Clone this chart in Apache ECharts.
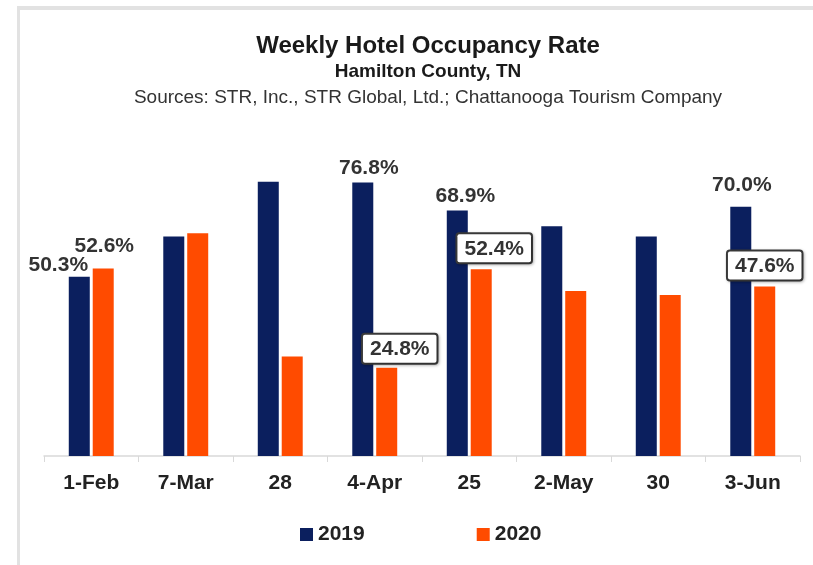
<!DOCTYPE html>
<html>
<head>
<meta charset="utf-8">
<script src="https://cdn.jsdelivr.net/npm/echarts@6/dist/echarts.min.js"></script>
<style>
  html, body { margin: 0; padding: 0; background: #fff; }
  #chart { width: 813px; height: 565px; }
</style>
</head>
<body>
<div id="chart"></div>
<script>
// weeks shown on the x axis
const weeks = ["1-Feb", "7-Mar", "28", "4-Apr", "25", "2-May", "30", "3-Jun"];
// occupancy rate, percent
const occ2019 = [50.3, 61.6, 77.0, 76.8, 68.9, 64.5, 61.6, 70.0];
const occ2020 = [52.6, 62.5, 27.9, 24.8, 52.4, 46.3, 45.2, 47.6];

const NAVY = "#0b1f5e";
const ORANGE = "#ff4b00";
const FONT = "'Liberation Sans', Arial, sans-serif";

// which bars get a label (index -> label offset), plain or boxed
const plain2019 = { 0: [-21, 4], 3: [6, 1], 4: [8, 1], 7: [1, -6] };
const plain2020 = { 0: [1, -7] };
const boxed2020 = { 3: [13, 0], 4: [13, -2], 7: [0, -2] };

const plainLabel = (off) => ({
  show: true,
  position: "top",
  offset: off,
  formatter: (p) => p.value.toFixed(1) + "%",
  color: "#333",
  fontFamily: FONT,
  fontWeight: "bold",
  fontSize: 21,
});

const boxLabel = (off) => ({
  show: true,
  position: "top",
  offset: off,
  formatter: (p) => p.value.toFixed(1) + "%",
  color: "#333",
  fontFamily: FONT,
  fontWeight: "bold",
  fontSize: 21,
  backgroundColor: "#fff",
  borderColor: "#3a3a3a",
  borderWidth: 2,
  borderRadius: 2,
  padding: [4, 7, 3, 7],
  shadowColor: "rgba(0,0,0,0.25)",
  shadowBlur: 3,
  shadowOffsetX: 1,
  shadowOffsetY: 1,
});

const data2019 = occ2019.map((v, i) =>
  plain2019[i] ? { value: v, label: plainLabel(plain2019[i]) } : v
);
const data2020 = occ2020.map((v, i) => {
  if (plain2020[i]) return { value: v, label: plainLabel(plain2020[i]) };
  if (boxed2020[i]) return { value: v, label: boxLabel(boxed2020[i]) };
  return v;
});

const chart = echarts.init(document.getElementById("chart"));

chart.setOption({
  animation: false,
  backgroundColor: "#fff",
  textStyle: { fontFamily: FONT },
  title: [
    {
      text: "Weekly Hotel Occupancy Rate",
      left: 423,
      top: 29,
      textAlign: "center",
      textStyle: { fontSize: 24, fontWeight: "bold", color: "#1a1a1a", fontFamily: FONT },
    },
    {
      text: "Hamilton County, TN",
      left: 423,
      top: 57,
      textAlign: "center",
      textStyle: { fontSize: 19, fontWeight: "bold", color: "#1a1a1a", fontFamily: FONT },
    },
    {
      text: "Sources: STR, Inc., STR Global, Ltd.; Chattanooga Tourism Company",
      left: 423,
      top: 83,
      textAlign: "center",
      textStyle: { fontSize: 19, fontWeight: "normal", color: "#333", fontFamily: FONT },
    },
  ],
  graphic: [
    { type: "rect", shape: { x: 17, y: 6, width: 796, height: 4 }, style: { fill: "#e2e2e2" } },
    { type: "rect", shape: { x: 17, y: 6, width: 3, height: 559 }, style: { fill: "#e2e2e2" } },
  ],
  legend: {
    left: 295,
    top: 519,
    itemWidth: 13,
    itemHeight: 13,
    itemGap: 112,
    icon: "rect",
    textStyle: { fontSize: 21, fontWeight: "bold", color: "#222", fontFamily: FONT },
    data: ["2019", "2020"],
  },
  grid: { left: 44, right: 13, top: 171, bottom: 109 },
  xAxis: {
    type: "category",
    data: weeks,
    axisLine: { lineStyle: { color: "#d9d9d9", width: 1.5 } },
    axisTick: { show: true, length: 6, lineStyle: { color: "#d9d9d9" } },
    axisLabel: { margin: 17, fontSize: 21, fontWeight: "bold", color: "#222", fontFamily: FONT },
  },
  yAxis: {
    type: "value",
    min: 0,
    max: 80,
    show: false,
    splitLine: { show: false },
  },
  series: [
    {
      name: "2019",
      type: "bar",
      data: data2019,
      barWidth: 21,
      barGap: "14%",
      itemStyle: { color: NAVY },
    },
    {
      name: "2020",
      type: "bar",
      data: data2020,
      barWidth: 21,
      itemStyle: { color: ORANGE },
    },
  ],
});
</script>
</body>
</html>
